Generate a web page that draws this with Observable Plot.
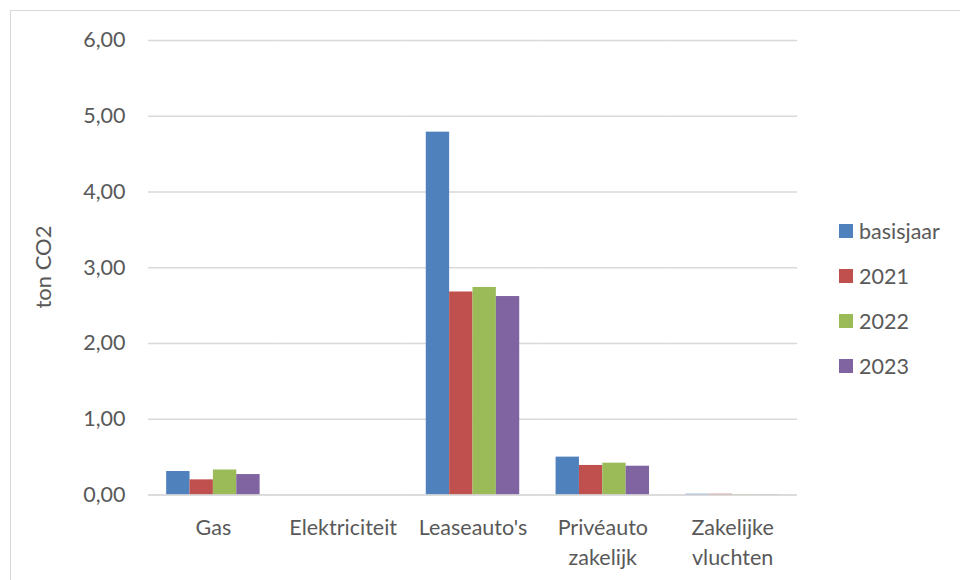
<!DOCTYPE html>
<html><head><meta charset="utf-8">
<script src="https://cdn.jsdelivr.net/npm/d3@7"></script>
<script src="https://cdn.jsdelivr.net/npm/@observablehq/plot@0.6"></script>
<style>
body{margin:0;background:#fff;font-family:Lato,sans-serif}
#wrap{position:relative;width:960px;height:580px;overflow:hidden;background:#fff}
#border{position:absolute;left:10px;top:10px;width:980px;height:600px;border:1.5px solid #d9d9d9;box-sizing:border-box}
#chart{position:absolute;left:0;top:0}
#ylabel{position:absolute;left:42px;top:267px;transform:translate(-50%,-50%) rotate(-90deg);font-size:22px;color:#595959;white-space:nowrap}
#legend{position:absolute;left:839px;top:208px;font-size:21.5px;color:#595959}
.li{display:flex;align-items:center;height:45px}
.sw{width:14px;height:14px;margin-right:6px}
</style></head>
<body><div id="wrap"><div id="border"></div><div id="chart"></div><div id="ylabel">ton CO2</div><div id="legend"></div></div>
<script>
const categories = ["Gas", "Elektriciteit", "Leaseauto's", "Privéauto\nzakelijk", "Zakelijke\nvluchten"];
const series = ["basisjaar", "2021", "2022", "2023"];
const basisjaar = [0.31, 0, 4.79, 0.50, 0.01];
const y2021 = [0.20, 0, 2.68, 0.39, 0.01];
const y2022 = [0.33, 0, 2.74, 0.42, 0.005];
const y2023 = [0.27, 0, 2.62, 0.38, 0.005];
const colors = ["#4F81BD", "#C0504D", "#9BBB59", "#8064A2"];
const yTicks = [0, 1, 2, 3, 4, 5, 6];

const valuesBySeries = [basisjaar, y2021, y2022, y2023];
const data = [];
categories.forEach((c, i) => series.forEach((s, j) => data.push({cat: c, series: s, value: valuesBySeries[j][i]})));

const W = 960, H = 580, mL = 148, mR = 163, pInner = 0.28, pOuter = 0.14;
const step = (W - mL - mR) / (categories.length - pInner + 2 * pOuter);
const halfGap = step * pInner / 2;

const chart = Plot.plot({
  width: W, height: H,
  marginLeft: mL, marginRight: mR, marginTop: 40, marginBottom: 85.5,
  style: {fontFamily: "Lato, sans-serif", fontSize: "21.5px", color: "#595959", background: "transparent"},
  fx: {domain: categories, paddingInner: pInner, paddingOuter: pOuter, round: false, axis: null, label: null},
  x: {domain: series, padding: 0, round: false, axis: null},
  y: {domain: [0, 6], axis: null},
  color: {domain: series, range: colors},
  marks: [
    Plot.ruleY(yTicks.slice(1), {stroke: "#d9d9d9", strokeWidth: 1.5, insetLeft: -halfGap, insetRight: -halfGap}),
    Plot.barY(data, {fx: "cat", x: "series", y: "value", fill: "series"}),
    Plot.ruleY([0], {stroke: "#d0d0d0", strokeWidth: 1.5, insetLeft: -halfGap, insetRight: -halfGap}),
    Plot.axisY(yTicks, {tickSize: 0, tickPadding: 23 + halfGap, tickFormat: d => d.toFixed(2).replace(".", ","), label: null}),
    Plot.axisFx({anchor: "bottom", tickSize: 0, tickPadding: 19, lineHeight: 1.38, label: null})
  ]
});
document.getElementById("chart").appendChild(chart);

const legend = document.getElementById("legend");
series.forEach((s, i) => {
  const row = document.createElement("div"); row.className = "li";
  const sw = document.createElement("div"); sw.className = "sw"; sw.style.background = colors[i];
  const t = document.createElement("span"); t.textContent = s;
  row.appendChild(sw); row.appendChild(t); legend.appendChild(row);
});
</script></body></html>
